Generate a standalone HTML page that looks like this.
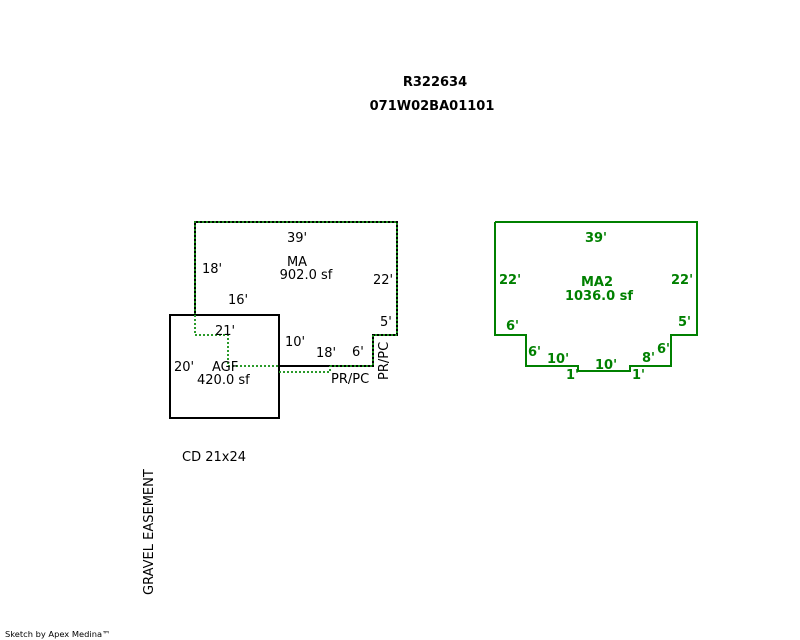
<!DOCTYPE html>
<html><head><meta charset="utf-8"><style>
html,body{margin:0;padding:0;background:#fff;}
svg{display:block;}
text{font-family:"DejaVu Sans","Liberation Sans",sans-serif;font-size:13px;}
.g{fill:#008000;font-weight:bold;}
</style></head><body>
<svg width="800" height="640" viewBox="0 0 800 640" xmlns="http://www.w3.org/2000/svg">
<text x="435" y="86" text-anchor="middle" font-weight="bold">R322634</text>
<text x="432" y="110" text-anchor="middle" font-weight="bold">071W02BA01101</text>

<polyline points="195,315 195,222 397,222 397,335 373,335 373,366 280,366" fill="none" stroke="#000" stroke-width="2"/>
<polyline points="195,315 195,222 397,222 397,335 373,335 373,366 330,366" fill="none" stroke="#1a8a1a" stroke-width="2" stroke-dasharray="2,2"/>
<rect x="170" y="315" width="109" height="103" fill="none" stroke="#000" stroke-width="2"/>
<polyline points="195,315 195,335 228,335 228,366 279,366" fill="none" stroke="#2a9a2a" stroke-width="2" stroke-dasharray="2,2"/>
<polyline points="279,372 330,372 330,366" fill="none" stroke="#2a9a2a" stroke-width="2" stroke-dasharray="2,2"/>

<text x="297" y="242" text-anchor="middle">39'</text>
<text x="297" y="266" text-anchor="middle">MA</text>
<text x="306" y="279" text-anchor="middle">902.0 sf</text>
<text x="202" y="273">18'</text>
<text x="373" y="284">22'</text>
<text x="228" y="304">16'</text>
<text x="380" y="326">5'</text>
<text x="215" y="335">21'</text>
<text x="285" y="346">10'</text>
<text x="316" y="357">18'</text>
<text x="352" y="356">6'</text>
<text x="174" y="371">20'</text>
<text x="212" y="371">AGF</text>
<text x="197" y="384">420.0 sf</text>
<text x="331" y="383">PR/PC</text>
<text transform="translate(388,380) rotate(-90)">PR/PC</text>
<text x="182" y="461">CD 21x24</text>
<text transform="translate(153,595) rotate(-90)">GRAVEL EASEMENT</text>
<text x="5" y="637" style="font-size:8.3px">Sketch by Apex Medina™</text>

<polyline points="495,222 697,222 697,335 671,335 671,366 630,366 630,371 578,371 578,366 526,366 526,335 495,335 495,222" fill="none" stroke="#008000" stroke-width="2"/>
<text class="g" x="596" y="242" text-anchor="middle">39'</text>
<text class="g" x="597" y="286" text-anchor="middle">MA2</text>
<text class="g" x="599" y="300" text-anchor="middle">1036.0 sf</text>
<text class="g" x="499" y="284">22'</text>
<text class="g" x="671" y="284">22'</text>
<text class="g" x="506" y="330">6'</text>
<text class="g" x="678" y="326">5'</text>
<text class="g" x="528" y="356">6'</text>
<text class="g" x="657" y="353">6'</text>
<text class="g" x="547" y="363">10'</text>
<text class="g" x="595" y="369">10'</text>
<text class="g" x="642" y="362">8'</text>
<text class="g" x="566" y="379">1'</text>
<text class="g" x="632" y="379">1'</text>
</svg>
</body></html>
